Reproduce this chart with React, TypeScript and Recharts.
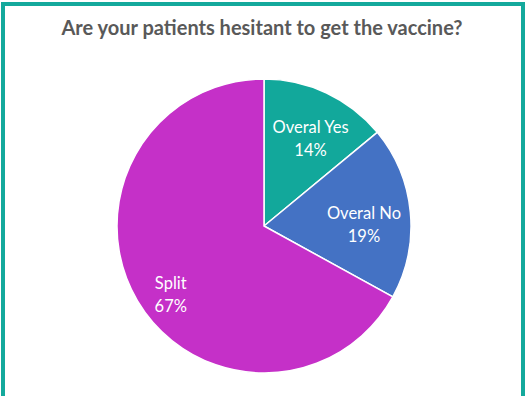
import { Cell, Pie, PieChart } from "recharts"

const categories = ["Overal Yes", "Overal No", "Split"]
const shares = [14, 19, 67]
const colors = ["#12A89B", "#4472C4", "#C530C8"]

const title = "Are your patients hesitant to get the vaccine?"

// label tweaks so text sits where the original put it
const labelPlace: Record<string, { r: number; shift: number }> = {
  "Overal Yes": { r: 0.67, shift: -3 },
  "Overal No": { r: 0.68, shift: -5 },
  Split: { r: 0.79, shift: 6 },
}

const data = categories.map((name, i) => ({ name, value: shares[i] }))

const RADIAN = Math.PI / 180

function renderLabel(props: any) {
  const { cx, cy, midAngle, outerRadius, name, value } = props
  const place = labelPlace[name] ?? { r: 0.7, shift: 0 }
  const angle = (midAngle + place.shift) * RADIAN
  const r = outerRadius * place.r
  const x = cx + r * Math.cos(angle)
  const y = cy - r * Math.sin(angle)
  return (
    <text
      x={x}
      y={y}
      fill="#ffffff"
      textAnchor="middle"
      fontFamily="Lato, sans-serif"
      fontSize={16.5}
    >
      <tspan x={x} dy={-6}>
        {name}
      </tspan>
      <tspan x={x} dy={23}>
        {value}%
      </tspan>
    </text>
  )
}

export default function App() {
  return (
    <div
      style={{
        position: "absolute",
        left: 0,
        top: 0,
        width: 530,
        height: 396,
        overflow: "hidden",
        background: "#ffffff",
      }}
    >
      <div
        style={{
          position: "absolute",
          left: 1,
          top: 2,
          width: 516,
          height: 420,
          border: "4px solid #14A99C",
        }}
      />
      <div
        style={{
          position: "absolute",
          left: 0,
          top: 15,
          width: 524,
          textAlign: "center",
          fontFamily: "Lato, sans-serif",
          fontWeight: 700,
          fontSize: 20,
          color: "#595959",
        }}
      >
        {title}
      </div>
      <div style={{ position: "absolute", left: 0, top: 0 }}>
        <PieChart width={530} height={396} margin={{ top: 0, right: 0, bottom: 0, left: 0 }}>
          <Pie
            data={data}
            dataKey="value"
            nameKey="name"
            cx={264}
            cy={226}
            outerRadius={147}
            startAngle={90}
            endAngle={-270}
            stroke="#ffffff"
            strokeWidth={1.5}
            label={renderLabel}
            labelLine={false}
            isAnimationActive={false}
          >
            {data.map((d, i) => (
              <Cell key={d.name} fill={colors[i]} />
            ))}
          </Pie>
        </PieChart>
      </div>
    </div>
  )
}
